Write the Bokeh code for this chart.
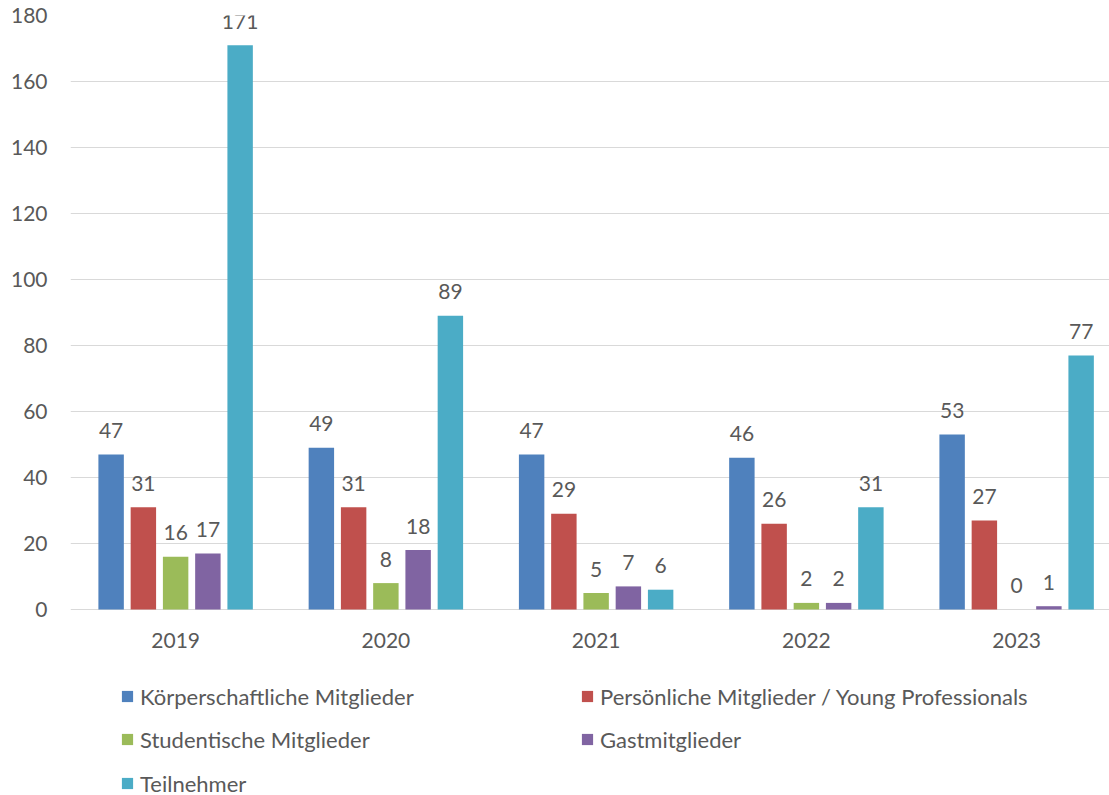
from bokeh.plotting import figure
from bokeh.models import ColumnDataSource, Range1d, FixedTicker, Legend, LegendItem
from bokeh.core.properties import value
from bokeh.embed import file_html
from bokeh.resources import INLINE

years = ["2019", "2020", "2021", "2022", "2023"]
series_names = ["Körperschaftliche Mitglieder",
                "Persönliche Mitglieder / Young Professionals",
                "Studentische Mitglieder",
                "Gastmitglieder",
                "Teilnehmer"]
koerperschaftlich = [47, 49, 47, 46, 53]
persoenlich = [31, 31, 29, 26, 27]
studentisch = [16, 8, 5, 2, 0]
gast = [17, 18, 7, 2, 1]
teilnehmer = [171, 89, 6, 31, 77]
y_ticks = [0, 20, 40, 60, 80, 100, 120, 140, 160, 180]

colors = ["#4F81BD", "#C0504D", "#9BBB59", "#8064A2", "#4BACC6"]
all_series = [koerperschaftlich, persoenlich, studentisch, gast, teilnehmer]

FONT = "Lato"
TXT = "#595959"
FS = "21px"
LFS = "22px"

W, H = 1109, 795
FRAME_LEFT, FRAME_TOP, ZERO_Y = 70, 15, 609
px_per_unit = (ZERO_Y - FRAME_TOP) / 180.0
y_min = -(H - ZERO_Y) / px_per_unit

p = figure(width=W, height=H, output_backend="svg", toolbar_location=None,
           x_axis_location=None,
           x_range=Range1d(-0.5, 4.4417), y_range=Range1d(y_min, 180),
           min_border_left=FRAME_LEFT, min_border_right=0, min_border_top=FRAME_TOP,
           min_border_bottom=0)
p.outline_line_color = None
p.background_fill_color = "white"
p.border_fill_color = "white"

step = 0.1534
bw = 0.121
renderers = []
for k, (vals, col) in enumerate(zip(all_series, colors)):
    xs = [i + (k - 2) * step for i in range(len(years))]
    src = ColumnDataSource(dict(x=xs, top=vals, lab=[str(v) for v in vals]))
    r = p.vbar(x="x", top="top", bottom=0, width=bw, source=src, fill_color=col, line_color=None)
    renderers.append(r)
    p.text(x="x", y="top", text="lab", source=src, text_align="center", text_baseline="middle",
           y_offset=-24, text_font=value(FONT), text_font_size=FS, text_color=TXT)

# category labels under the zero line
cat_src = ColumnDataSource(dict(x=list(range(len(years))), y=[0] * len(years), t=years))
p.text(x="x", y="y", text="t", source=cat_src, text_align="center", text_baseline="middle",
       y_offset=31, text_font=value(FONT), text_font_size=FS, text_color=TXT)

p.yaxis.ticker = FixedTicker(ticks=y_ticks)
p.yaxis.axis_line_color = None
p.yaxis.major_tick_line_color = None
p.yaxis.minor_tick_line_color = None
p.yaxis.major_label_standoff = 17
p.yaxis.major_label_text_font = FONT
p.yaxis.major_label_text_font_size = FS
p.yaxis.major_label_text_color = TXT

p.xgrid.grid_line_color = None
p.ygrid.grid_line_color = "#D9D9D9"
p.ygrid.grid_line_width = 1

# legend entries: (glyph left, glyph vertical centre) in page pixels
positions = [(120, 696), (580, 696), (120, 739), (580, 739), (120, 783)]
item_h = 30
for k, (name, r) in enumerate(zip(series_names, renderers)):
    gx, gc = positions[k]
    vx = gx - FRAME_LEFT
    vy = H - (gc + item_h / 2)
    leg = Legend(items=[LegendItem(label=name, renderers=[r])], location=(vx, vy),
                 padding=0, margin=0, spacing=0, border_line_color=None,
                 background_fill_alpha=0, glyph_width=14, glyph_height=14,
                 label_standoff=6, label_height=item_h,
                 label_text_font=FONT, label_text_font_size=LFS, label_text_color=TXT)
    p.add_layout(leg, "center")

open("out.html", "w").write(file_html(p, INLINE))
